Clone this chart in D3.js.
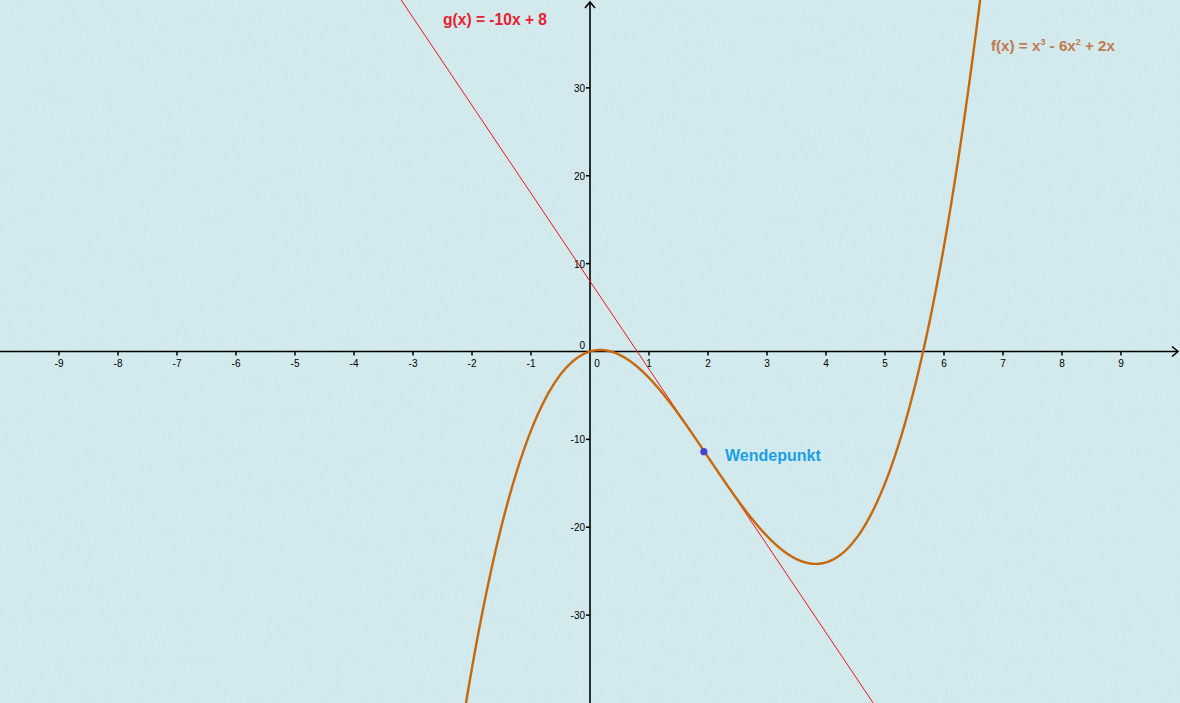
<!DOCTYPE html>
<html><head><meta charset="utf-8">
<script src="https://cdn.jsdelivr.net/npm/d3@7"></script>
<style>
html,body{margin:0;padding:0;background:#d0e9ed;overflow:hidden}
text{font-family:"Liberation Sans",Arial,sans-serif}
</style></head><body>
<svg id="c" width="1180" height="703"></svg>
<script>
// Data
const fCoeffs = [1, -6, 2, 0];      // f(x) = x^3 - 6x^2 + 2x
const gCoeffs = [-10, 8];           // g(x) = -10x + 8
const xTicks = [-9,-8,-7,-6,-5,-4,-3,-2,-1,0,1,2,3,4,5,6,7,8,9];
const yTicks = [-30,-20,-10,10,20,30];
const inflection = [1.93, -11.4];
const xDomain = [-10, 10];
const yDomain = [-40, 40];

const W = 1180, H = 703;
const svg = d3.select("#c");
const x = d3.scaleLinear().domain(xDomain).range([0, W]);
const y = d3.scaleLinear().domain(yDomain).range([H, 0]);

const poly = c => t => c.reduce((a, k) => a * t + k, 0);
const f = poly(fCoeffs), g = poly(gCoeffs);

// background texture (subtle)
const defs = svg.append("defs");
const pat = defs.append("filter").attr("id","tex");
pat.append("feTurbulence").attr("type","fractalNoise").attr("baseFrequency","0.9 0.15").attr("numOctaves",2).attr("seed",3);
pat.append("feColorMatrix").attr("values","0 0 0 0 1  0 0 0 0 1  0 0 0 0 1  0 0 0 0.12 0");
svg.append("rect").attr("width",W).attr("height",H).attr("fill","#cfe8ec");
svg.append("rect").attr("width",W).attr("height",H).attr("filter","url(#tex)");

// axes
const ax = svg.append("g").attr("stroke","#000").attr("stroke-width",1.6).attr("fill","none");
ax.append("line").attr("x1",0).attr("x2",W-2).attr("y1",y(0)).attr("y2",y(0));
ax.append("path").attr("d",`M${W-8},${y(0)-5}L${W-2},${y(0)}L${W-8},${y(0)+5}`);
ax.append("line").attr("x1",x(0)).attr("x2",x(0)).attr("y1",H).attr("y2",2);
ax.append("path").attr("d",`M${x(0)-5},8L${x(0)},2L${x(0)+5},8`);

// x ticks
const xt = svg.append("g");
xTicks.filter(d=>d!==0).forEach(d=>{
  xt.append("line").attr("x1",x(d)).attr("x2",x(d)).attr("y1",y(0)).attr("y2",y(0)+4).attr("stroke","#000").attr("stroke-width",1.5);
  xt.append("text").attr("x",x(d)).attr("y",y(0)+15).attr("text-anchor","middle").attr("font-size",10).text(d);
});
xt.append("text").attr("x",x(0)+7).attr("y",y(0)+15).attr("text-anchor","middle").attr("font-size",10).text("0");
// y ticks
yTicks.forEach(d=>{
  xt.append("line").attr("x1",x(0)-4).attr("x2",x(0)).attr("y1",y(d)).attr("y2",y(d)).attr("stroke","#000").attr("stroke-width",1.5);
  xt.append("text").attr("x",x(0)-5).attr("y",y(d)+4).attr("text-anchor","end").attr("font-size",10).text(d);
});
xt.append("text").attr("x",x(0)-5).attr("y",y(0)-3).attr("text-anchor","end").attr("font-size",10).text("0");

// tangent g
const line = d3.line().x(d=>x(d[0])).y(d=>y(d[1]));
svg.append("path").attr("d", line(xDomain.map(t=>[t,g(t)]))).attr("stroke","#ff1010").attr("stroke-width",1).attr("fill","none");

// curve f
const xs = d3.range(-3, 7.5, 0.01);
svg.append("path").attr("d", line(xs.map(t=>[t,f(t)]))).attr("stroke","#c8680a").attr("stroke-width",2.4).attr("fill","none");

// inflection point
svg.append("circle").attr("cx",x(inflection[0])).attr("cy",y(inflection[1])).attr("r",3.6).attr("fill","#4444cc");

// labels
svg.append("text").attr("x",443).attr("y",25).attr("font-size",15.6).attr("font-weight","bold").attr("fill","#e82030").text("g(x) = -10x + 8");
const fl = svg.append("text").attr("x",991).attr("y",51).attr("font-size",15.2).attr("font-weight","bold").attr("fill","#c07a50");
fl.append("tspan").text("f(x) = x");
fl.append("tspan").attr("font-size",9).attr("dy",-6).text("3");
fl.append("tspan").attr("dy",6).text(" - 6x");
fl.append("tspan").attr("font-size",9).attr("dy",-6).text("2");
fl.append("tspan").attr("dy",6).text(" + 2x");
svg.append("text").attr("x",725).attr("y",461).attr("font-size",16).attr("font-weight","bold").attr("fill","#1aa0e6").text("Wendepunkt");
</script>
</body></html>
